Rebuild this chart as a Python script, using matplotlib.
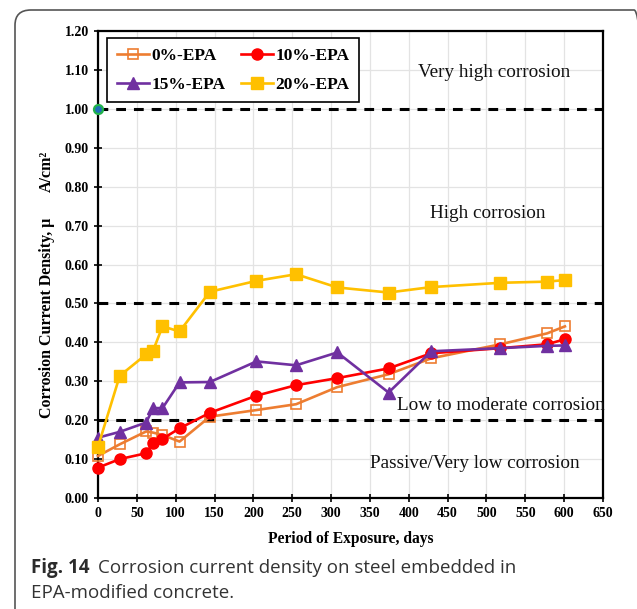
import matplotlib
matplotlib.use("Agg")
import matplotlib.pyplot as plt
from matplotlib.patches import FancyBboxPatch

plt.rcParams['font.family'] = ['Liberation Serif', 'DejaVu Serif']

days = [0, 28, 62, 71, 83, 105, 144, 204, 255, 308, 374, 429, 518, 578, 601]
epa0 = [0.108, 0.138, 0.171, 0.168, 0.162, 0.145, 0.209, 0.226, 0.241, 0.285,
        0.318, 0.359, 0.395, 0.423, 0.441]
epa10 = [0.078, 0.100, 0.115, 0.142, 0.152, 0.179, 0.219, 0.263, 0.290, 0.308,
         0.333, 0.372, 0.385, 0.395, 0.408]
epa15 = [0.155, 0.170, 0.194, 0.231, 0.231, 0.297, 0.298, 0.351, 0.341, 0.374,
         0.271, 0.377, 0.385, 0.391, 0.392]
epa20 = [0.132, 0.314, 0.369, 0.379, 0.441, 0.428, 0.530, 0.558, 0.575, 0.541,
         0.528, 0.542, 0.553, 0.556, 0.560]
series_names = ['0%-EPA', '10%-EPA', '15%-EPA', '20%-EPA']
thresholds = [0.2, 0.5, 1.0]
zones = [(510, 1.093, 'Very high corrosion'),
         (502, 0.730, 'High corrosion'),
         (518, 0.237, 'Low to moderate corrosion'),
         (485, 0.089, 'Passive/Very low corrosion')]

W, H = 637, 609
fig = plt.figure(figsize=(W / 100, H / 100), dpi=100)

# rounded panel frame
frame = FancyBboxPatch((15 / W, -0.05), (650 - 15) / W, 1 - 10 / H + 0.05,
                       boxstyle="round,pad=0,rounding_size=0.025",
                       transform=fig.transFigure, fill=False,
                       edgecolor='#555555', linewidth=1.2)
fig.patches.append(frame)

ax = fig.add_axes([98 / W, 1 - 498 / H, (603 - 98) / W, (498 - 31) / H])

ax.set_xlim(0, 650)
ax.set_ylim(0, 1.2)
ax.set_xticks(range(0, 651, 50))
ax.set_yticks([i / 10 for i in range(13)])
ax.set_yticklabels([f'{i / 10:.2f}' for i in range(13)])
ax.grid(True, color='#e3e3e3', linewidth=0.9)
ax.set_axisbelow(True)
for s in ax.spines.values():
    s.set_linewidth(1.6)
    s.set_color('black')
ax.tick_params(axis='both', direction='inout', length=6, width=1.2,
               labelsize=10)
for lab in ax.get_xticklabels() + ax.get_yticklabels():
    lab.set_fontweight('bold')

for t in thresholds:
    ax.axhline(t, color='black', linewidth=2.2, linestyle=(0, (3.2, 2.6)),
               zorder=2)

styles = [
    dict(color='#ED7D31', marker='s', mfc='none', mec='#ED7D31', ms=7.2, mew=1.2),
    dict(color='#FF0000', marker='o', mfc='#FF0000', mec='#FF0000', ms=8),
    dict(color='#7030A0', marker='^', mfc='#7030A0', mec='#7030A0', ms=8.5),
    dict(color='#FFC000', marker='s', mfc='#FFC000', mec='#FFC000', ms=8),
]
handles = []
for vals, name, st in zip([epa0, epa10, epa15, epa20], series_names, styles):
    h, = ax.plot(days, vals, linewidth=1.9, label=name, zorder=3,
                 clip_on=False, **st)
    handles.append(h)

# marker sitting on the 1.00 threshold at the origin
ax.plot([0], [1.0], marker='o', ms=6.5, mfc='#1f6fb8', mec='#22b34a', mew=1.6,
        linestyle='none', clip_on=False, zorder=5)

for x, y, txt in zones:
    ax.text(x, y, txt, ha='center', va='center', fontsize=13.8,
            color='#111111', zorder=4)

order = [0, 2, 1, 3]
leg = ax.legend([handles[i] for i in order], [series_names[i] for i in order],
                loc='upper left', bbox_to_anchor=(9 / 505, 1 - 7 / 467), ncol=2,
                prop={'weight': 'bold', 'size': 12.5}, frameon=True,
                fancybox=False, edgecolor='black', framealpha=1,
                handlelength=1.85, columnspacing=0.9, borderpad=0.55,
                labelspacing=0.75, handletextpad=0.15, borderaxespad=0)
leg.get_frame().set_linewidth(1.2)

ax.set_xlabel('Period of Exposure, days', fontsize=11.2, fontweight='bold',
              labelpad=8)

# y-axis title in two pieces, as typeset
fig.text(47 / W, 1 - 318 / H, 'Corrosion Current Density, \u03bc', rotation=90,
         ha='center', va='center', fontsize=11.5, fontweight='bold')
fig.text(47 / W, 1 - 171 / H, 'A/cm\u00b2', rotation=90,
         ha='center', va='center', fontsize=11.5, fontweight='bold')

cap_x = 31
cap_y = 1 - 568 / H
cap_bold = fig.text(cap_x / W, cap_y, 'Fig. 14', fontsize=13.5,
                    color='#2b2b2b', va='center', family='Open Sans',
                    fontweight='bold')
fig.canvas.draw()
bb = cap_bold.get_window_extent()
fig.text((bb.x1 + 8) / W, cap_y,
         'Corrosion current density on steel embedded in', fontsize=13.5,
         color='#333333', va='center', family='Open Sans')
fig.text(cap_x / W, 1 - 593 / H, 'EPA-modified concrete.', fontsize=13.5,
         color='#333333', va='center', family='Open Sans')

fig.savefig('out.png', dpi=100)
